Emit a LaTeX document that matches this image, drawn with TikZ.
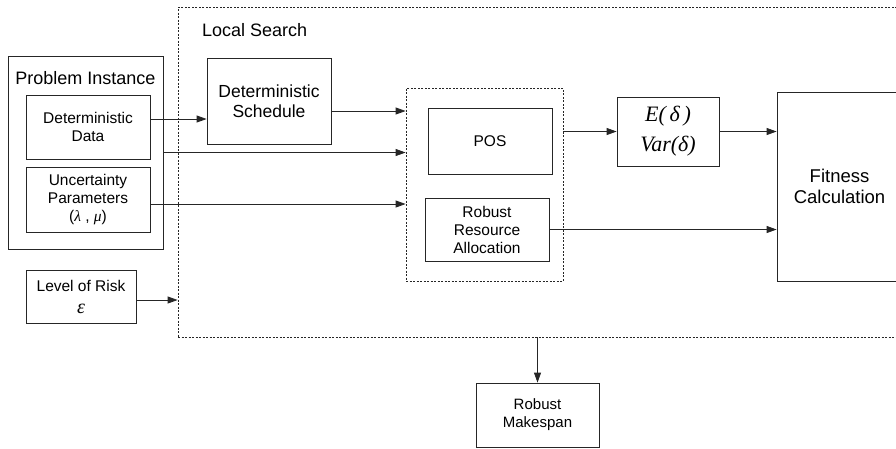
\documentclass[tikz,border=0pt]{standalone}
\usepackage{fontspec}
\setmainfont{Liberation Sans}
\newfontfamily\mathserif{Liberation Serif}
\usetikzlibrary{positioning}
\usetikzlibrary{arrows.meta}

\tikzset{
    box/.style={draw=black!85, line width=0.8pt, align=center, inner sep=0pt, font=\fontsize{15.5}{18}\selectfont},
    dashbox/.style={draw=black!85, line width=0.8pt, dash pattern=on 2pt off 1.5pt, inner sep=0pt},
    arr/.style={draw=black!85, line width=0.8pt, -{Triangle[length=10pt,width=7pt]}},
}

\begin{document}
\begin{tikzpicture}[x=1pt, y=-1pt]
\useasboundingbox (0,0) rectangle (896,448);

% Outer frames
\node[dashbox, minimum width=730pt, minimum height=330pt] (search) at (543,172) {};
\node[anchor=west, inner sep=0pt, font=\fontsize{18}{20}\selectfont] (searchlabel) at (202,30) {Local Search};
\node[box, minimum width=155pt, minimum height=193pt] (inst) at (85.5,152.5) {};
\node[inner sep=0pt, font=\fontsize{18}{20}\selectfont] (instlabel) at (85.5,78) {Problem Instance};

% Inputs
\node[box, minimum width=124pt, minimum height=64pt] (detdata) at (88,127) {Deterministic\\Data};
\node[box, minimum width=124pt, minimum height=65pt] (uncert) at (88,199.5)
    {Uncertainty\\Parameters\\({\mathserif\itshape λ} , {\mathserif\itshape μ})};
\node[box, minimum width=110pt, minimum height=53pt] (risk) at (81,296.5)
    {Level of Risk\\[4pt]{\mathserif\itshape\fontsize{20}{20}\selectfont ε}};

% Local search contents
\node[box, minimum width=124pt, minimum height=86pt, font=\fontsize{17.5}{20}\selectfont] (detsched) at (269,101) {Deterministic\\Schedule};
\node[dashbox, minimum width=157pt, minimum height=193pt] (alloc) at (484.5,184.5) {};
\node[box, minimum width=124pt, minimum height=66pt] (pos) at (490,141) {POS};
\node[box, minimum width=124pt, minimum height=63pt] (rra) at (487,229.5) {Robust\\Resource\\Allocation};
\node[box, minimum width=102pt, minimum height=69pt, font=\mathserif\itshape\fontsize{22}{30}\selectfont] (stats) at (668,131.5)
    {E(\,δ\,)\\Var(δ)};
\node[box, minimum width=125pt, minimum height=189pt, font=\fontsize{18.5}{21}\selectfont] (fitness) at (839.5,186.5) {Fitness\\Calculation};

% Output
\node[box, minimum width=123pt, minimum height=64pt, font=\fontsize{15}{18}\selectfont] (makespan) at (537.5,415) {Robust\\Makespan};

% Connectors
\draw[arr] ([yshift=8pt]detdata.east) -- ([yshift=8pt]detdata.east -| detsched.west);
\draw[arr] (inst.east) -- (inst.east -| alloc.west);
\draw[arr] ([yshift=-4.5pt]uncert.east) -- ([yshift=-4.5pt]uncert.east -| alloc.west);
\draw[arr] ([yshift=-3.5pt]risk.east) -- ([yshift=-3.5pt]risk.east -| search.west);
\draw[arr] ([yshift=-10pt]detsched.east) -- ([yshift=-10pt]detsched.east -| alloc.west);
\draw[arr] (stats.west -| alloc.east) -- (stats.west);
\draw[arr] (stats.east) -- (stats.east -| fitness.west);
\draw[arr] (rra.east) -- (rra.east -| fitness.west);
\draw[arr] (makespan.north |- search.south) -- (makespan.north);
\end{tikzpicture}
\end{document}
